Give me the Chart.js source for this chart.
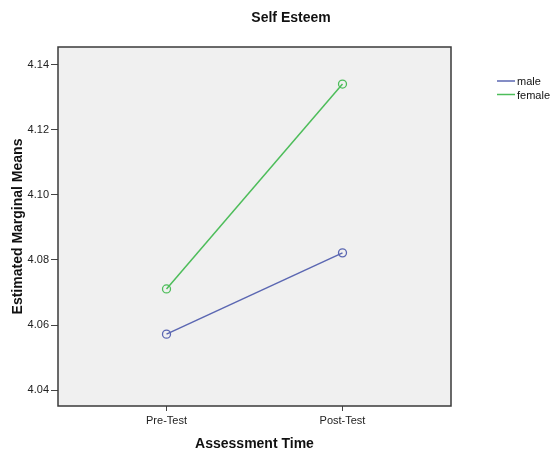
<!DOCTYPE html>
<html lang="en">
<head>
    <meta charset="UTF-8">
    <title>Self Esteem</title>
    <script src="https://cdn.jsdelivr.net/npm/chart.js"></script>
    <style>
        body {
            margin: 0;
            padding: 0;
            background: #ffffff;
        }
        .wrap {
            width: 550px;
            height: 451px;
        }
    </style>
</head>
<body>
    <div class="wrap">
        <canvas id="chart" width="550" height="451"></canvas>
    </div>

    <script>
        // data
        var timePoints = ["Pre-Test", "Post-Test"];
        var maleMeans = [4.0572, 4.0822];
        var femaleMeans = [4.0711, 4.1341];
        var seriesNames = ["male", "female"];
        var seriesColors = ["#5b67b2", "#4dbd5a"];
        var yTicks = [4.04, 4.06, 4.08, 4.10, 4.12, 4.14];

        var font = "'Liberation Sans', Arial, sans-serif";

        function toPoints(values) {
            return values.map(function (v, i) { return { x: i, y: v }; });
        }

        // gray plot background + frame
        var plotFrame = {
            id: "plotFrame",
            beforeDatasetsDraw: function (chart) {
                var a = chart.chartArea, ctx = chart.ctx;
                ctx.save();
                ctx.fillStyle = "#f0f0f0";
                ctx.fillRect(a.left, a.top, a.right - a.left, a.bottom - a.top);
                ctx.restore();
            },
            afterDatasetsDraw: function (chart) {
                var a = chart.chartArea, ctx = chart.ctx;
                ctx.save();
                ctx.strokeStyle = "#3a3a3a";
                ctx.lineWidth = 1.5;
                ctx.strokeRect(a.left, a.top, a.right - a.left, a.bottom - a.top);
                ctx.restore();
            }
        };

        // titles and legend, placed like the SPSS output
        var labelsPlugin = {
            id: "labelsPlugin",
            afterDraw: function (chart) {
                var a = chart.chartArea, ctx = chart.ctx;
                var cx = (a.left + a.right) / 2, cy = (a.top + a.bottom) / 2;
                ctx.save();
                ctx.fillStyle = "#111";
                ctx.textAlign = "center";
                ctx.textBaseline = "middle";
                ctx.font = "bold 14px " + font;
                ctx.fillText("Self Esteem", 291, 18);
                ctx.fillText("Assessment Time", cx, 444);
                ctx.translate(18, cy);
                ctx.rotate(-Math.PI / 2);
                ctx.fillText("Estimated Marginal Means", 0, 0);
                ctx.restore();

                ctx.save();
                ctx.font = "11px " + font;
                ctx.textAlign = "left";
                ctx.textBaseline = "middle";
                chart.data.datasets.forEach(function (ds, i) {
                    var y = 81 + i * 13.5;
                    ctx.strokeStyle = ds.borderColor;
                    ctx.lineWidth = 1.5;
                    ctx.beginPath();
                    ctx.moveTo(497, y);
                    ctx.lineTo(515, y);
                    ctx.stroke();
                    ctx.fillStyle = "#111";
                    ctx.fillText(ds.label, 517, y + 1);
                });
                ctx.restore();
            }
        };

        var chart = new Chart(document.getElementById("chart"), {
            type: "line",
            data: {
                datasets: [
                    {
                        label: seriesNames[0],
                        data: toPoints(maleMeans),
                        borderColor: seriesColors[0],
                        backgroundColor: "rgba(0,0,0,0)",
                        borderWidth: 1.5,
                        pointRadius: 4,
                        pointBorderWidth: 1.3,
                        fill: false
                    },
                    {
                        label: seriesNames[1],
                        data: toPoints(femaleMeans),
                        borderColor: seriesColors[1],
                        backgroundColor: "rgba(0,0,0,0)",
                        borderWidth: 1.5,
                        pointRadius: 4,
                        pointBorderWidth: 1.3,
                        fill: false
                    }
                ]
            },
            options: {
                responsive: false,
                animation: false,
                layout: { padding: { left: 0, top: 47, right: 99, bottom: 0 } },
                plugins: {
                    legend: { display: false },
                    title: { display: false },
                    tooltip: { enabled: false }
                },
                scales: {
                    x: {
                        type: "linear",
                        min: -0.6165,
                        max: 1.6165,
                        afterBuildTicks: function (scale) {
                            scale.ticks = timePoints.map(function (t, i) { return { value: i }; });
                        },
                        afterFit: function (scale) { scale.height = 45; },
                        ticks: {
                            autoSkip: false,
                            maxRotation: 0,
                            padding: 3,
                            color: "#222",
                            font: { family: font, size: 11 },
                            callback: function (v) { return timePoints[v]; }
                        },
                        grid: {
                            drawOnChartArea: false,
                            drawTicks: true,
                            tickLength: 5,
                            color: "#444"
                        },
                        border: { display: false }
                    },
                    y: {
                        min: 4.0351,
                        max: 4.1455,
                        afterBuildTicks: function (scale) {
                            scale.ticks = yTicks.map(function (v) { return { value: v }; });
                        },
                        afterFit: function (scale) { scale.width = 58; },
                        ticks: {
                            padding: 2,
                            color: "#222",
                            font: { family: font, size: 11 },
                            callback: function (v) { return Number(v).toFixed(2); }
                        },
                        grid: {
                            drawOnChartArea: false,
                            drawTicks: true,
                            tickLength: 7,
                            color: "#444"
                        },
                        border: { display: false }
                    }
                }
            },
            plugins: [plotFrame, labelsPlugin]
        });
    </script>
</body>
</html>
